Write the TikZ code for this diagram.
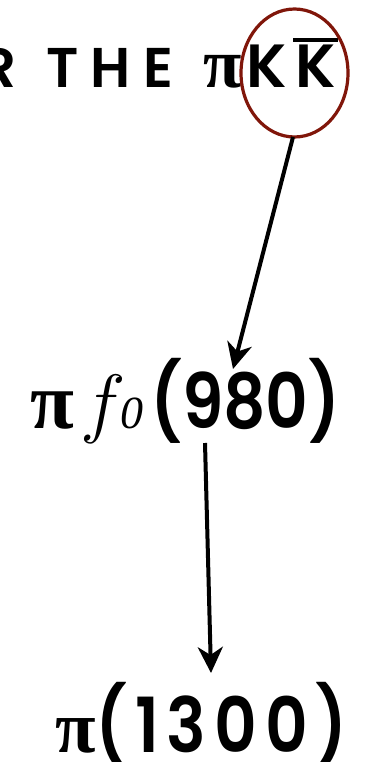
\documentclass[tikz,border=0pt]{standalone}
\usepackage{fix-cm}
\usepackage{fontspec}
\setmainfont{Liberation Serif}
\newfontfamily\cp{Poppins SemiBold}
\usetikzlibrary{arrows.meta}
\definecolor{ellred}{RGB}{128,22,10}
\begin{document}
\begin{tikzpicture}[x=1pt,y=-1pt,
  txt/.style={inner sep=0pt, outer sep=0pt},
  arr/.style={line width=4pt, -{Stealth[length=26pt,width=25pt,inset=8pt]}}]
\useasboundingbox (0,0) rectangle (379,762);
% top line
\node[txt, anchor=base east] (r) at (16,88) {\fontsize{56}{56}\selectfont\cp R};
\node[txt, anchor=base west] (the) at (46,88) {\fontsize{56}{56}\selectfont\cp\addfontfeature{LetterSpace=22}THE};
\node[txt, anchor=base west] (pi1) at (203,88) {\fontsize{70}{70}\selectfont\bfseries π};
\node[txt, anchor=base west] (k) at (246,88) {\fontsize{61}{61}\selectfont\cp K};
\node[txt, anchor=base west] (kb) at (295,88) {\fontsize{61}{61}\selectfont\cp K};
\draw[line width=4pt] (293,40) -- (338,40);
\draw[ellred, line width=3.2pt] (294.5,73) ellipse [x radius=53.5, y radius=64];
\coordinate (e) at (293,137);
% middle line
\node[txt, anchor=base west] (pi2) at (30,428) {\fontsize{80}{80}\selectfont\bfseries π};
\node[txt, anchor=base west] (f) at (80,428) {\fontsize{77}{77}\selectfont$f$};
\node[txt, anchor=base west] (z) at (120,428) {\fontsize{46}{46}\selectfont\itshape 0};
\node[txt, anchor=base west] (m) at (150,428) {\scalebox{0.87}[1]{\fontsize{76}{76}\selectfont\cp (980)}};
% bottom line
\node[txt, anchor=base west] (pi3) at (55,752) {\fontsize{74}{74}\selectfont\bfseries π};
\node[txt, anchor=base west] (b) at (95,752) {\scalebox{0.87}[1]{\fontsize{76}{76}\selectfont\cp\addfontfeature{LetterSpace=12}(1300)}};
% arrows
\coordinate (a1) at (233,369);
\coordinate (s2) at (205,443);
\coordinate (a2) at (211,673);
\draw[arr] (e) -- (a1);
\draw[arr] (s2) -- (a2);
\end{tikzpicture}
\end{document}
